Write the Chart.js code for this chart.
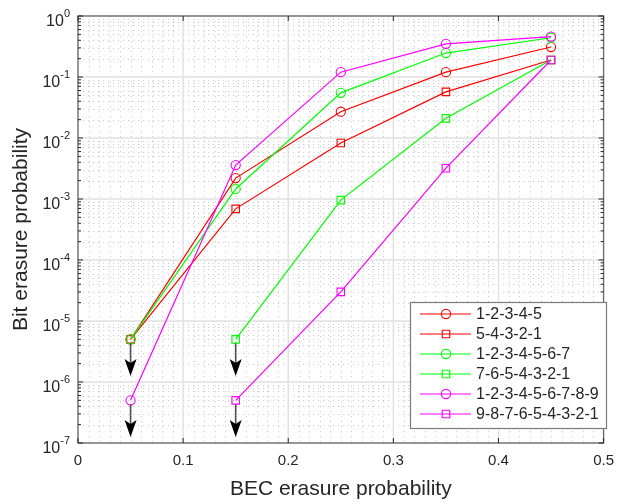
<!DOCTYPE html>
<html>
<head>
<meta charset="utf-8">
<script src="https://cdn.jsdelivr.net/npm/chart.js@4.4.1/dist/chart.umd.min.js"></script>
<style>
  html, body { margin: 0; padding: 0; background: #fff; }
  #wrap { width: 623px; height: 504px; }
</style>
</head>
<body>
<div id="wrap"><canvas id="chart" width="623" height="504"></canvas></div>
<script>
// BEC erasure probability (x) for every series
var becProb = [0.05, 0.15, 0.25, 0.35, 0.45];

// bit erasure probability (null = not plotted)
var ser12345      = [5e-6, 2.2e-3, 0.027, 0.12, 0.31];
var ser54321      = [5e-6, 6.9e-4, 8.3e-3, 0.057, 0.19];
var ser1234567    = [5e-6, 1.46e-3, 0.055, 0.247, 0.44];
var ser7654321    = [null, 5e-6, 9.6e-4, 0.021, 0.19];
var ser123456789  = [5e-7, 3.6e-3, 0.12, 0.35, 0.46];
var ser987654321  = [null, 5e-7, 3.0e-5, 3.2e-3, 0.19];

var seriesNames = ['1-2-3-4-5', '5-4-3-2-1', '1-2-3-4-5-6-7', '7-6-5-4-3-2-1',
                   '1-2-3-4-5-6-7-8-9', '9-8-7-6-5-4-3-2-1'];
var seriesValues = [ser12345, ser54321, ser1234567, ser7654321, ser123456789, ser987654321];

// arrows pointing down (below the lowest simulated value)
var arrowX    = [0.05, 0.05, 0.15, 0.15];
var arrowFrom = [5e-6, 5e-7, 5e-6, 5e-7];
var arrowTo   = [1.25e-6, 1.25e-7, 1.25e-6, 1.25e-7];

var xTicks = [0, 0.1, 0.2, 0.3, 0.4, 0.5];
var yExponents = [0, -1, -2, -3, -4, -5, -6, -7];

var colors = ['#ff0000', '#ff0000', '#00ff00', '#00ff00', '#ff00ff', '#ff00ff'];
var markers = ['circle', 'rect', 'circle', 'rect', 'circle', 'rect'];
var FONT = '"Liberation Sans", Arial, Helvetica, sans-serif';
var TXT = '#262626';

var datasets = [];
for (var i = 0; i < seriesValues.length; i++) {
    var pts = [];
    for (var j = 0; j < becProb.length; j++) {
        if (seriesValues[i][j] !== null) {
            pts.push({x: becProb[j], y: seriesValues[i][j]});
        }
    }
    datasets.push({
        label: seriesNames[i],
        data: pts,
        borderColor: colors[i],
        borderWidth: 1.2,
        pointStyle: markers[i],
        pointRadius: markers[i] === 'circle' ? 4.6 : 5.3,
        pointBorderWidth: 1.1,
        pointBackgroundColor: 'rgba(0,0,0,0)',
        pointBorderColor: colors[i],
        fill: false,
        tension: 0,
        order: 6 - i
    });
}

var matlabLook = {
    id: 'matlabLook',
    beforeDatasetsDraw: function(chart) {
        var ctx = chart.ctx, a = chart.chartArea;
        var xs = chart.scales.x, ys = chart.scales.y;
        ctx.save();
        // minor grid (dotted)
        ctx.strokeStyle = '#cdcdcd';
        ctx.lineWidth = 1;
        ctx.setLineDash([1.2, 3.8]);
        for (var k = -7; k < 0; k++) {
            for (var m = 2; m <= 9; m++) {
                var y = Math.round(ys.getPixelForValue(m * Math.pow(10, k))) + 0.5;
                ctx.beginPath(); ctx.moveTo(a.left, y); ctx.lineTo(a.right, y); ctx.stroke();
            }
        }
        for (var n = 1; n < 50; n++) {
            if (n % 10 === 0) continue;
            var x = Math.round(xs.getPixelForValue(n / 100)) + 0.5;
            ctx.beginPath(); ctx.moveTo(x, a.top); ctx.lineTo(x, a.bottom); ctx.stroke();
        }
        // major grid (solid)
        ctx.setLineDash([]);
        ctx.strokeStyle = '#e0e0e0';
        ctx.lineWidth = 1.4;
        for (var e = 0; e < yExponents.length; e++) {
            var yy = ys.getPixelForValue(Math.pow(10, yExponents[e]));
            ctx.beginPath(); ctx.moveTo(a.left, yy); ctx.lineTo(a.right, yy); ctx.stroke();
        }
        for (var t = 0; t < xTicks.length; t++) {
            var xx = xs.getPixelForValue(xTicks[t]);
            ctx.beginPath(); ctx.moveTo(xx, a.top); ctx.lineTo(xx, a.bottom); ctx.stroke();
        }
        ctx.restore();
    },
    afterDatasetsDraw: function(chart) {
        var ctx = chart.ctx, a = chart.chartArea;
        var xs = chart.scales.x, ys = chart.scales.y;
        ctx.save();

        // arrows
        for (var i = 0; i < arrowX.length; i++) {
            var ax = xs.getPixelForValue(arrowX[i]);
            var y0 = ys.getPixelForValue(arrowFrom[i]);
            var y1 = ys.getPixelForValue(arrowTo[i]);
            var headLen = 17, halfW = 6, notch = 4;
            ctx.strokeStyle = '#505050';
            ctx.lineWidth = 1.6;
            ctx.beginPath(); ctx.moveTo(ax, y0 + 4); ctx.lineTo(ax, y1 - headLen + notch); ctx.stroke();
            ctx.fillStyle = '#000000';
            ctx.beginPath();
            ctx.moveTo(ax, y1);
            ctx.lineTo(ax - halfW, y1 - headLen);
            ctx.lineTo(ax, y1 - headLen + notch);
            ctx.lineTo(ax + halfW, y1 - headLen);
            ctx.closePath();
            ctx.fill();
        }

        // axes box
        ctx.strokeStyle = '#6a6a6a';
        ctx.lineWidth = 1.3;
        ctx.strokeRect(a.left, a.top, a.right - a.left, a.bottom - a.top);

        // tick marks (inside, on both sides)
        ctx.lineWidth = 1;
        ctx.strokeStyle = '#262626';
        for (var k = -7; k <= 0; k++) {
            for (var m = 1; m <= 9; m++) {
                if (k === 0 && m > 1) break;
                var y = ys.getPixelForValue(m * Math.pow(10, k));
                var len = m === 1 ? 5 : 3;
                ctx.beginPath();
                ctx.moveTo(a.left, y); ctx.lineTo(a.left + len, y);
                ctx.moveTo(a.right, y); ctx.lineTo(a.right - len, y);
                ctx.stroke();
            }
        }
        for (var t = 0; t < xTicks.length; t++) {
            var x = xs.getPixelForValue(xTicks[t]);
            ctx.beginPath();
            ctx.moveTo(x, a.bottom); ctx.lineTo(x, a.bottom - 5);
            ctx.moveTo(x, a.top); ctx.lineTo(x, a.top + 5);
            ctx.stroke();
        }

        // y tick labels 10^k
        ctx.fillStyle = TXT;
        for (var e = 0; e < yExponents.length; e++) {
            var yp = ys.getPixelForValue(Math.pow(10, yExponents[e]));
            var expTxt = String(yExponents[e]);
            ctx.font = '11px ' + FONT;
            var ew = ctx.measureText(expTxt).width;
            var right = a.left - 8;
            ctx.textAlign = 'left';
            ctx.textBaseline = 'alphabetic';
            ctx.fillText(expTxt, right - ew, yp + 0.5);
            ctx.font = '16px ' + FONT;
            ctx.textAlign = 'right';
            ctx.fillText('10', right - ew, yp + 9.5);
        }

        // legend
        var lx = 410, ly = 302, lw = 196, lh = 126;
        ctx.fillStyle = '#ffffff';
        ctx.fillRect(lx, ly, lw, lh);
        ctx.strokeStyle = '#7a7a7a';
        ctx.lineWidth = 1.2;
        ctx.strokeRect(lx + 0.5, ly + 0.5, lw, lh);
        chart.data.datasets.forEach(function(ds, i) {
            var ry = ly + 12 + i * 20;
            ctx.strokeStyle = ds.borderColor;
            ctx.lineWidth = 1.2;
            ctx.beginPath(); ctx.moveTo(lx + 10, ry); ctx.lineTo(lx + 61, ry); ctx.stroke();
            ctx.fillStyle = 'rgba(0,0,0,0)';
            ctx.lineWidth = 1.1;
            Chart.helpers.drawPoint(ctx, {
                pointStyle: ds.pointStyle, radius: ds.pointRadius, borderWidth: 1.1, rotation: 0
            }, lx + 36, ry);
            ctx.fillStyle = TXT;
            ctx.font = '16px ' + FONT;
            ctx.textAlign = 'left';
            ctx.textBaseline = 'middle';
            ctx.fillText(ds.label, lx + 66, ry + 1);
        });
        ctx.restore();
    }
};

var ctx = document.getElementById('chart');
var chart = new Chart(ctx, {
    type: 'line',
    data: { datasets: datasets },
    options: {
        responsive: false,
        animation: false,
        layout: { padding: { top: 16, right: 11, left: 0, bottom: 0 } },
        plugins: { legend: { display: false }, tooltip: { enabled: false } },
        scales: {
            x: {
                type: 'linear',
                min: 0,
                max: 0.5,
                afterBuildTicks: function(scale) {
                    scale.ticks = xTicks.map(function(v) { return {value: v}; });
                },
                ticks: {
                    font: { family: FONT, size: 15 },
                    color: TXT,
                    padding: 9,
                    maxRotation: 0,
                    callback: function(v) { return v === 0 ? '0' : v.toFixed(1); }
                },
                grid: { display: true, drawOnChartArea: false, drawTicks: false },
                border: { display: false },
                title: {
                    display: true,
                    text: 'BEC erasure probability',
                    font: { family: FONT, size: 21 },
                    color: TXT,
                    padding: { top: 0, bottom: 2 }
                },
                afterFit: function(scale) { scale.height = 61; }
            },
            y: {
                type: 'logarithmic',
                min: 1e-7,
                max: 1,
                ticks: { callback: function() { return ''; } },
                grid: { display: true, drawOnChartArea: false, drawTicks: false },
                border: { display: false },
                title: {
                    display: true,
                    text: 'Bit erasure probability',
                    font: { family: FONT, size: 21 },
                    color: TXT,
                    padding: { top: 9, bottom: 0 }
                },
                afterFit: function(scale) { scale.width = 78; }
            }
        }
    },
    plugins: [matlabLook]
});
</script>
</body>
</html>
